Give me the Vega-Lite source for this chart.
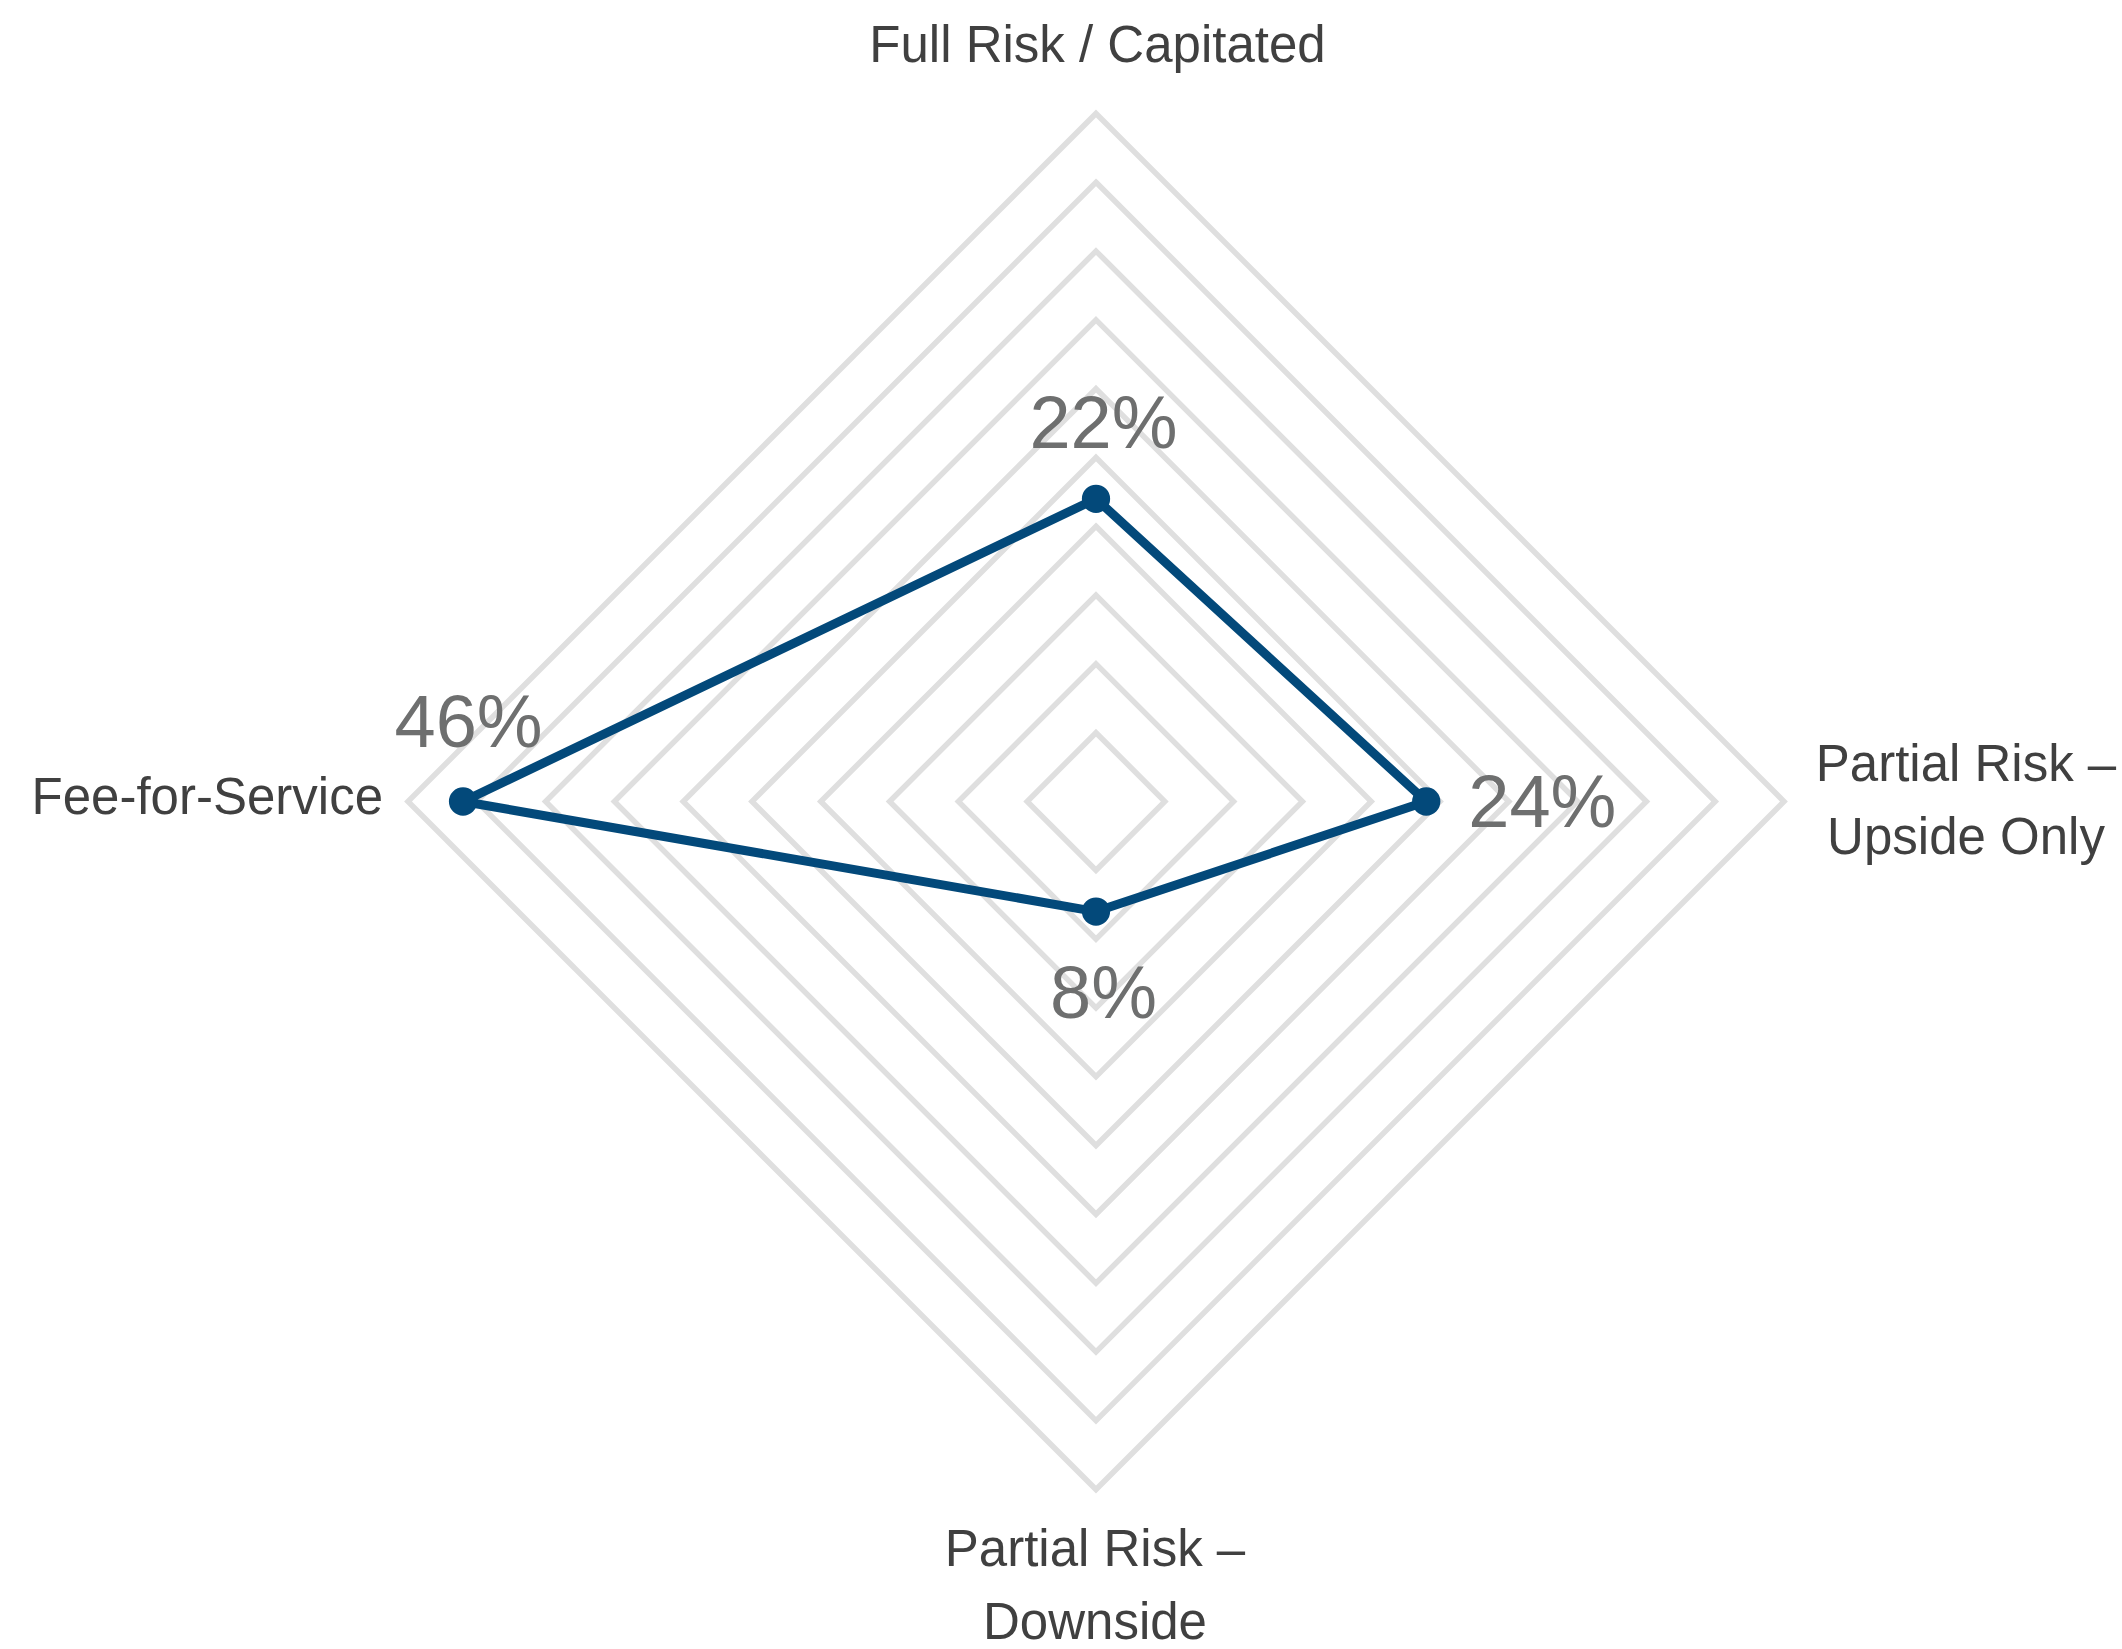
{
  "$schema": "https://vega.github.io/schema/vega-lite/v6.json",
  "width": 2122,
  "height": 1649,
  "padding": 0,
  "autosize": {"type": "none"},
  "background": "white",
  "config": {"view": {"stroke": null}},
  "datasets": {
    "shares": [
      {"category": "Full Risk / Capitated", "label": "Full Risk / Capitated", "order": 0, "value": 0.22},
      {"category": "Partial Risk – Upside Only", "label": "Partial Risk –\nUpside Only", "order": 1, "value": 0.24},
      {"category": "Partial Risk – Downside", "label": "Partial Risk –\nDownside", "order": 2, "value": 0.08},
      {"category": "Fee-for-Service", "label": "Fee-for-Service", "order": 3, "value": 0.46}
    ],
    "rings": [
      {"ring": 0.05, "vertex": [0, 1, 2, 3]},
      {"ring": 0.10, "vertex": [0, 1, 2, 3]},
      {"ring": 0.15, "vertex": [0, 1, 2, 3]},
      {"ring": 0.20, "vertex": [0, 1, 2, 3]},
      {"ring": 0.25, "vertex": [0, 1, 2, 3]},
      {"ring": 0.30, "vertex": [0, 1, 2, 3]},
      {"ring": 0.35, "vertex": [0, 1, 2, 3]},
      {"ring": 0.40, "vertex": [0, 1, 2, 3]},
      {"ring": 0.45, "vertex": [0, 1, 2, 3]},
      {"ring": 0.50, "vertex": [0, 1, 2, 3]}
    ]
  },
  "encoding": {
    "x": {"field": "px", "type": "quantitative", "scale": {"domain": [-0.79651, 0.74564], "nice": false, "zero": false}, "axis": null},
    "y": {"field": "py", "type": "quantitative", "scale": {"domain": [-0.61592, 0.58248], "nice": false, "zero": false}, "axis": null}
  },
  "layer": [
    {
      "data": {"name": "rings"},
      "transform": [
        {"flatten": ["vertex"]},
        {"calculate": "PI/2 - datum.vertex*PI/2", "as": "angle"},
        {"calculate": "datum.ring*cos(datum.angle)", "as": "px"},
        {"calculate": "datum.ring*sin(datum.angle)", "as": "py"}
      ],
      "mark": {"type": "line", "interpolate": "linear-closed", "stroke": "#dfdfdf", "strokeWidth": 5.5, "strokeJoin": "miter"},
      "encoding": {"detail": {"field": "ring", "type": "nominal"}, "order": {"field": "vertex", "type": "quantitative"}}
    },
    {
      "data": {"name": "shares"},
      "transform": [
        {"calculate": "PI/2 - datum.order*PI/2", "as": "angle"},
        {"calculate": "datum.value*cos(datum.angle)", "as": "px"},
        {"calculate": "datum.value*sin(datum.angle)", "as": "py"}
      ],
      "layer": [
        {
          "mark": {"type": "line", "interpolate": "linear-closed", "stroke": "#03497a", "strokeWidth": 9, "strokeJoin": "round"},
          "encoding": {"order": {"field": "order", "type": "quantitative"}}
        },
        {
          "mark": {"type": "circle", "size": 800, "color": "#03497a", "opacity": 1},
          "encoding": {}
        },
        {
          "transform": [{"filter": "datum.order == 0"}],
          "mark": {"type": "text", "font": "Liberation Sans, Arial, sans-serif", "fontSize": 74, "color": "#6e6f6f", "align": "center", "baseline": "alphabetic", "dx": 7.5, "dy": -51},
          "encoding": {"text": {"field": "value", "type": "quantitative", "format": ".0%"}}
        },
        {
          "transform": [{"filter": "datum.order == 1"}],
          "mark": {"type": "text", "font": "Liberation Sans, Arial, sans-serif", "fontSize": 74, "color": "#6e6f6f", "align": "left", "baseline": "alphabetic", "dx": 42, "dy": 25.5},
          "encoding": {"text": {"field": "value", "type": "quantitative", "format": ".0%"}}
        },
        {
          "transform": [{"filter": "datum.order == 2"}],
          "mark": {"type": "text", "font": "Liberation Sans, Arial, sans-serif", "fontSize": 74, "color": "#6e6f6f", "align": "center", "baseline": "alphabetic", "dx": 7.5, "dy": 106},
          "encoding": {"text": {"field": "value", "type": "quantitative", "format": ".0%"}}
        },
        {
          "transform": [{"filter": "datum.order == 3"}],
          "mark": {"type": "text", "font": "Liberation Sans, Arial, sans-serif", "fontSize": 74, "color": "#6e6f6f", "align": "center", "baseline": "alphabetic", "dx": 5.5, "dy": -54.5},
          "encoding": {"text": {"field": "value", "type": "quantitative", "format": ".0%"}}
        }
      ]
    },
    {
      "data": {"name": "shares"},
      "transform": [
        {"calculate": "PI/2 - datum.order*PI/2", "as": "angle"},
        {"calculate": "0.5*cos(datum.angle)", "as": "px"},
        {"calculate": "0.5*sin(datum.angle)", "as": "py"}
      ],
      "layer": [
        {
          "transform": [{"filter": "datum.order == 0"}],
          "mark": {"type": "text", "font": "Liberation Sans, Arial, sans-serif", "fontSize": 51, "color": "#404040", "align": "center", "baseline": "alphabetic", "dx": 1.5, "dy": -51, "lineBreak": "\n", "lineHeight": 73},
          "encoding": {"text": {"field": "label", "type": "nominal"}}
        },
        {
          "transform": [{"filter": "datum.order == 1"}],
          "mark": {"type": "text", "font": "Liberation Sans, Arial, sans-serif", "fontSize": 51, "color": "#404040", "align": "center", "baseline": "alphabetic", "dx": 182, "dy": -20.5, "lineBreak": "\n", "lineHeight": 73},
          "encoding": {"text": {"field": "label", "type": "nominal"}}
        },
        {
          "transform": [{"filter": "datum.order == 2"}],
          "mark": {"type": "text", "font": "Liberation Sans, Arial, sans-serif", "fontSize": 51, "color": "#404040", "align": "center", "baseline": "alphabetic", "dx": -1, "dy": 76.5, "lineBreak": "\n", "lineHeight": 73},
          "encoding": {"text": {"field": "label", "type": "nominal"}}
        },
        {
          "transform": [{"filter": "datum.order == 3"}],
          "mark": {"type": "text", "font": "Liberation Sans, Arial, sans-serif", "fontSize": 51, "color": "#404040", "align": "right", "baseline": "alphabetic", "dx": -25, "dy": 12.5, "lineBreak": "\n", "lineHeight": 73},
          "encoding": {"text": {"field": "label", "type": "nominal"}}
        }
      ]
    }
  ]
}
